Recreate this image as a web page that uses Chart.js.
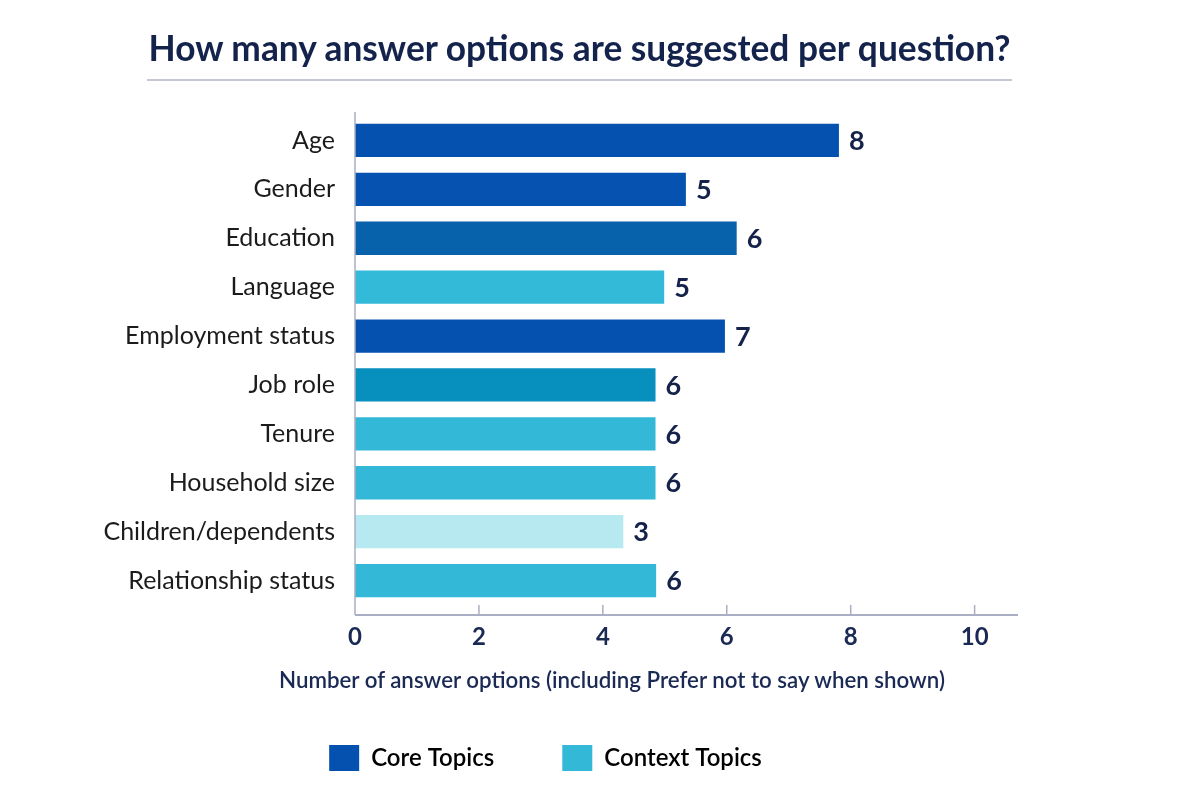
<!DOCTYPE html>
<html>
<head>
<meta charset="utf-8">
<script src="https://cdn.jsdelivr.net/npm/chart.js@4.4.1/dist/chart.umd.min.js"></script>
<style>
  html, body { margin: 0; padding: 0; background: #ffffff; }
  #wrap { position: relative; width: 1200px; height: 800px; }
  #title {
    position: absolute; left: 147px; width: 865px; top: 27px;
    font-family: Lato, "Open Sans", sans-serif; font-weight: 700; font-size: 35.3px;
    color: #14234b; text-align: center; white-space: nowrap; line-height: 42px;
  }
  #rule { position: absolute; left: 147px; width: 865px; top: 79px; height: 2px; background: #c3c7d6; }
  #xtitle {
    position: absolute; left: 212px; width: 800px; top: 665px;
    font-family: Lato, "Open Sans", sans-serif; font-weight: 600; font-size: 22.3px;
    color: #1b2a55; text-align: center; white-space: nowrap; line-height: 30px;
  }
  canvas { position: absolute; left: 0; top: 0; }
</style>
</head>
<body>
<div id="wrap">
  <canvas id="c" width="1200" height="800"></canvas>
  <div id="title">How many answer options are suggested per question?</div>
  <div id="rule"></div>
  <div id="xtitle">Number of answer options (including Prefer not to say when shown)</div>
</div>
<script>
const categories = ['Age', 'Gender', 'Education', 'Language', 'Employment status', 'Job role', 'Tenure', 'Household size', 'Children/dependents', 'Relationship status'];
const barValues = [7.81, 5.34, 6.16, 4.99, 5.97, 4.85, 4.85, 4.85, 4.33, 4.86];
const shownLabels = ['8', '5', '6', '5', '7', '6', '6', '6', '3', '6'];
const xTickValues = [0, 2, 4, 6, 8, 10];
const legendNames = ['Core Topics', 'Context Topics'];

const barColors = ['#0551b0', '#0552b1', '#0861ab', '#33bad8', '#0551b0', '#078fbe', '#33b8d8', '#33b8d8', '#b6e9f0', '#33b8d8'];
const legendColors = ['#0551b0', '#33b8d8'];
const axisColor = '#a9aec4';
const FONT = 'Lato, "Open Sans", sans-serif';

const axesPlugin = {
  id: 'customAxes',
  afterDatasetsDraw(chart) {
    const ctx = chart.ctx;
    const area = chart.chartArea;
    const xs = chart.scales.x;
    const axisY = area.bottom + 10;
    ctx.save();
    ctx.strokeStyle = axisColor;
    ctx.lineWidth = 1.5;
    ctx.beginPath();
    ctx.moveTo(area.left, area.top - 4);
    ctx.lineTo(area.left, axisY);
    ctx.stroke();
    ctx.lineWidth = 2;
    ctx.beginPath();
    ctx.moveTo(area.left, axisY);
    ctx.lineTo(area.right, axisY);
    ctx.stroke();
    ctx.lineWidth = 1.5;
    xs.ticks.forEach(t => {
      if (t.value === 0) return;
      const px = xs.getPixelForValue(t.value);
      ctx.beginPath();
      ctx.moveTo(px, axisY - 10);
      ctx.lineTo(px, axisY);
      ctx.stroke();
    });
    const meta = chart.getDatasetMeta(0);
    ctx.fillStyle = '#15224a';
    ctx.font = '700 27px ' + FONT;
    ctx.textAlign = 'left';
    ctx.textBaseline = 'middle';
    meta.data.forEach((bar, i) => {
      ctx.fillText(shownLabels[i], bar.x + 10, bar.y + 1);
    });
    ctx.restore();
  }
};

new Chart(document.getElementById('c'), {
  type: 'bar',
  data: {
    labels: categories,
    datasets: [{
      data: barValues,
      backgroundColor: barColors,
      borderWidth: 0,
      barPercentage: 0.68,
      categoryPercentage: 1.0
    }]
  },
  options: {
    indexAxis: 'y',
    responsive: false,
    animation: false,
    layout: { padding: { top: 116, left: 73, right: 182, bottom: 19 } },
    scales: {
      x: {
        min: 0, max: 10.7,
        afterBuildTicks: (scale) => { scale.ticks = xTickValues.map(v => ({ value: v })); },
        afterFit: (scale) => { scale.height = 72; },
        grid: { display: false, drawTicks: false },
        border: { display: false },
        ticks: { padding: 18, color: '#1b2a55', font: { family: FONT, size: 24, weight: '700' } }
      },
      y: {
        afterFit: (scale) => { scale.width = 282; },
        grid: { display: false, drawTicks: false },
        border: { display: false },
        ticks: { padding: 20, color: '#1b1b1b', font: { family: FONT, size: 25, weight: '400' } }
      }
    },
    plugins: {
      tooltip: { enabled: false },
      legend: {
        position: 'bottom',
        onClick: null,
        labels: {
          boxWidth: 30, boxHeight: 26, padding: 68,
          color: '#14234b',
          font: { family: FONT, size: 24, weight: '600' },
          generateLabels: () => legendNames.map((n, i) => ({
            text: n, fillStyle: legendColors[i], strokeStyle: legendColors[i], lineWidth: 0, hidden: false, datasetIndex: 0
          }))
        }
      }
    }
  },
  plugins: [axesPlugin]
});
</script>
</body>
</html>
